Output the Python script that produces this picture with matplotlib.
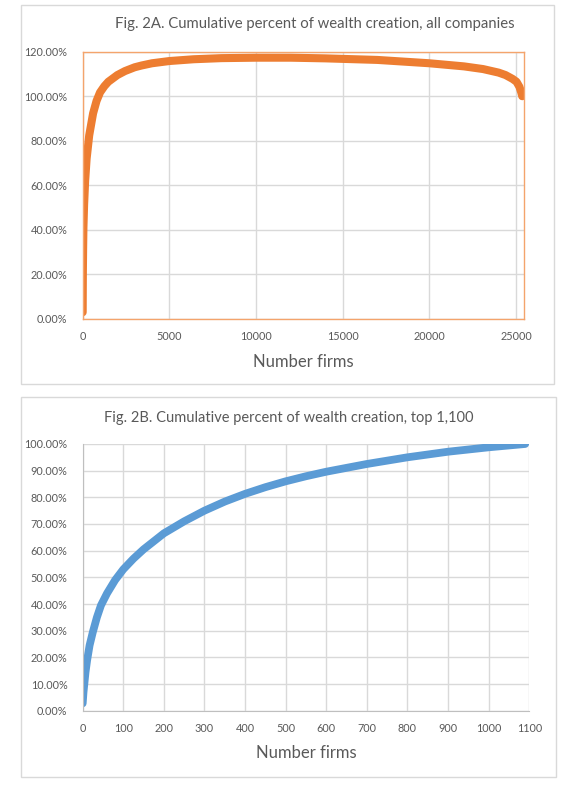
import matplotlib.pyplot as plt
from matplotlib.patches import Rectangle
from matplotlib.ticker import FuncFormatter

plt.rcParams['font.family'] = ['Lato', 'DejaVu Sans']

# Fig. 2A - all companies (cumulative % of wealth creation)
all_firms = [0, 4, 11, 25, 43, 83, 142, 228, 376, 600, 800, 1000, 1250, 1480, 2000, 2440,
             3000, 3400, 4000, 5000, 6400, 8000, 10000, 12000, 14000, 17000, 20000, 22000,
             23100, 24000, 24400, 24800, 25030, 25200, 25300, 25360]
all_pct = [3.0, 10.3, 20.6, 31.0, 41.0, 51.5, 62.0, 72.0, 82.4, 92.3, 97.9, 101.7, 104.5,
           106.5, 109.5, 111.3, 113.0, 113.8, 114.8, 115.8, 116.6, 117.1, 117.3, 117.3,
           117.0, 116.3, 114.8, 113.4, 112.2, 110.6, 109.5, 107.8, 106.5, 104.2, 101.8, 100.0]

# Fig. 2B - top 1,100
top_firms = [0, 2, 4, 7, 11, 17, 25, 35, 45, 60, 80, 100, 125, 150, 200, 250, 300, 350,
             400, 450, 500, 550, 600, 700, 800, 900, 1000, 1090]
top_pct = [2.75, 7.0, 10.0, 14.5, 19.0, 24.5, 29.5, 35.0, 39.5, 44.0, 49.0, 53.0, 57.0,
           60.5, 66.5, 71.0, 75.0, 78.4, 81.3, 83.8, 86.0, 87.9, 89.6, 92.5, 95.0, 97.1,
           98.75, 100.0]

x_ticks_a = [0, 5000, 10000, 15000, 20000, 25000]
x_ticks_b = list(range(0, 1101, 100))

txt = '#595959'
grid = '#D9D9D9'
pct_fmt = FuncFormatter(lambda v, p: '{:.2f}%'.format(v * 100))

fig = plt.figure(figsize=(5.73, 7.89), dpi=100, facecolor='white')

# outer chart boxes
fig.patches.append(Rectangle((21 / 573, 1 - 384 / 789), 533 / 573, 379 / 789,
                             transform=fig.transFigure, fill=False, ec=grid, lw=1))
fig.patches.append(Rectangle((21 / 573, 1 - 777 / 789), 535 / 573, 380 / 789,
                             transform=fig.transFigure, fill=False, ec=grid, lw=1))

# ---------------- top chart
ax1 = fig.add_axes([0.1443, 0.5957, 0.7707, 0.3388])
ax1.plot(all_firms, [v / 100 for v in all_pct], color='#ED7D31', lw=5.8,
         solid_capstyle='round', solid_joinstyle='round')
ax1.set_xlim(0, 25480)
ax1.set_ylim(0, 1.2)
ax1.set_xticks(x_ticks_a)
ax1.set_yticks([0, 0.2, 0.4, 0.6, 0.8, 1.0, 1.2])
ax1.yaxis.set_major_formatter(pct_fmt)
ax1.grid(True, color=grid, lw=1)
ax1.set_axisbelow(True)
for s in ax1.spines.values():
    s.set_color('#F4A46C')
    s.set_linewidth(1)
ax1.tick_params(length=0, labelsize=7.8, labelcolor=txt, pad=9)
ax1.tick_params(axis='y', pad=11)
ax1.set_xlabel('Number firms', fontsize=12, color=txt, labelpad=8)
fig.text(315 / 573, 1 - 24 / 789, 'Fig. 2A. Cumulative percent of wealth creation, all companies',
         ha='center', va='center', fontsize=10.7, color=txt)

# ---------------- bottom chart
ax2 = fig.add_axes([0.1443, 0.0992, 0.7794, 0.3381])
ax2.plot(top_firms, [v / 100 for v in top_pct], color='#5B9BD5', lw=5.6,
         solid_capstyle='round', solid_joinstyle='round')
ax2.set_xlim(0, 1100)
ax2.set_ylim(0, 1.0)
ax2.set_xticks(x_ticks_b)
ax2.set_yticks([i / 10 for i in range(11)])
ax2.yaxis.set_major_formatter(pct_fmt)
ax2.grid(True, color=grid, lw=1)
ax2.set_axisbelow(True)
ax2.spines['top'].set_visible(False)
ax2.spines['right'].set_visible(False)
ax2.spines['left'].set_color('#BFBFBF')
ax2.spines['bottom'].set_color('#BFBFBF')
ax2.tick_params(length=0, labelsize=7.8, labelcolor=txt, pad=9)
ax2.tick_params(axis='y', pad=11)
ax2.set_xlabel('Number firms', fontsize=12, color=txt, labelpad=8)
fig.text(289 / 573, 1 - 418 / 789, 'Fig. 2B. Cumulative percent of wealth creation, top 1,100',
         ha='center', va='center', fontsize=10.5, color=txt)

plt.savefig('out.png', dpi=100, facecolor='white')
